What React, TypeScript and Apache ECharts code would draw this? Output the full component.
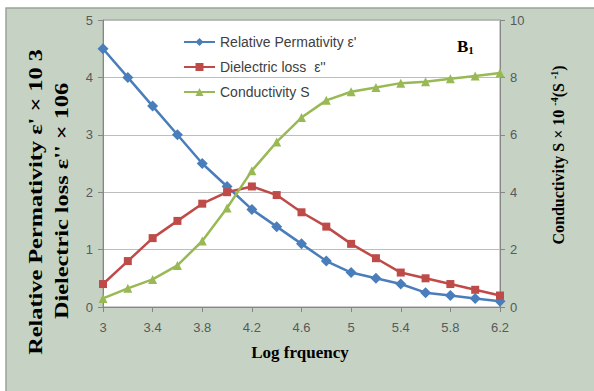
import React, { useEffect, useRef } from "react";
import * as echarts from "echarts";

const logFreq = ["3", "3.2", "3.4", "3.6", "3.8", "4", "4.2", "4.4", "4.6", "4.8", "5", "5.2", "5.4", "5.6", "5.8", "6", "6.2"];
const permittivity = [4.5, 4.0, 3.5, 3.0, 2.5, 2.1, 1.7, 1.4, 1.1, 0.8, 0.6, 0.5, 0.4, 0.25, 0.2, 0.15, 0.1];
const dielectricLoss = [0.4, 0.8, 1.2, 1.5, 1.8, 2.0, 2.1, 1.95, 1.65, 1.4, 1.1, 0.85, 0.6, 0.5, 0.4, 0.3, 0.2];
const conductivity = [0.3, 0.65, 0.96, 1.45, 2.3, 3.45, 4.75, 5.75, 6.6, 7.2, 7.5, 7.65, 7.8, 7.85, 7.95, 8.05, 8.15];
const leftTicks = [0, 1, 2, 3, 4, 5];
const rightTicks = [0, 2, 4, 6, 8, 10];

const labelFont = { fontFamily: "Liberation Sans", fontSize: 12, color: "#595959" };
const titleFont = "Liberation Serif";

export default function App() {
  const ref = useRef<HTMLDivElement>(null);
  useEffect(() => {
    if (!ref.current) return;
    const chart = echarts.init(ref.current, undefined, { renderer: "svg" });
    chart.setOption({
      animation: false,
      backgroundColor: "#ffffff",
      graphic: [
        { type: "rect", z: -10, shape: { x: 6, y: 8, width: 600, height: 400 }, style: { fill: "#c6d3c4", stroke: "#9aa39a", lineWidth: 1.5 } },
        {
          type: "text", z: 10, x: 36, y: 202, rotation: Math.PI / 2, scaleX: 1.28,
          style: { text: "Relative Permativity ε' × 10 3", font: `bold 19px ${titleFont}`, fill: "#000", align: "center", verticalAlign: "middle" },
        },
        {
          type: "text", z: 10, x: 62, y: 201, rotation: Math.PI / 2, scaleX: 1.28,
          style: { text: "Dielectric loss ε'' × 106", font: `bold 19px ${titleFont}`, fill: "#000", align: "center", verticalAlign: "middle" },
        },
        {
          type: "text", z: 10, x: 558, y: 155, rotation: Math.PI / 2,
          style: {
            text: "Conductivity S × 10 {sup|-4}(S {sup|-1})",
            font: `bold 16px ${titleFont}`, fill: "#000", align: "center", verticalAlign: "middle",
            rich: { sup: { fontFamily: titleFont, fontWeight: "bold", fontSize: 10, verticalAlign: "top", padding: [0, 0, 8, 0] } },
          },
        },
        {
          type: "text", z: 10, x: 300, y: 352,
          style: { text: "Log frquency", font: `bold 17px ${titleFont}`, fill: "#000", align: "center", verticalAlign: "middle" },
        },
        {
          type: "text", z: 10, x: 457, y: 46,
          style: {
            text: "B{sub|1}", font: `bold 17px ${titleFont}`, fill: "#000", align: "left", verticalAlign: "middle",
            rich: { sub: { fontFamily: titleFont, fontWeight: "bold", fontSize: 11, padding: [8, 0, 0, 0] } },
          },
        },
      ],
      legend: {
        orient: "vertical", left: 178, top: 30, itemWidth: 31, itemHeight: 10, itemGap: 11,
        textStyle: { fontFamily: "Liberation Sans", fontSize: 14, color: "#404040" },
        data: ["Relative Permativity ε'", "Dielectric loss  ε''", "Conductivity S"],
      },
      grid: { left: 103, right: 94, top: 20, bottom: 84, show: true, backgroundColor: "#ffffff", borderColor: "#9a9a9a", borderWidth: 1 },
      xAxis: {
        type: "category", data: logFreq, boundaryGap: false,
        axisLine: { lineStyle: { color: "#868686" } },
        axisTick: { interval: 1, length: 5, lineStyle: { color: "#868686" } },
        axisLabel: { ...labelFont, fontSize: 13, interval: 1, margin: 14 },
      },
      yAxis: [
        {
          type: "value", min: 0, max: 5, interval: 1,
          axisLine: { show: true, lineStyle: { color: "#868686" } },
          axisTick: { show: true, length: 5, lineStyle: { color: "#868686" } },
          axisLabel: { ...labelFont, fontSize: 13, margin: 10, formatter: (v: number) => (leftTicks.includes(v) ? String(v) : "") },
          splitLine: { lineStyle: { color: "#bdbdbd", width: 1 } },
        },
        {
          type: "value", min: 0, max: 10, interval: 2, position: "right",
          axisLine: { show: true, lineStyle: { color: "#868686" } },
          axisTick: { show: true, length: 5, lineStyle: { color: "#868686" } },
          axisLabel: { ...labelFont, fontSize: 13, margin: 10, formatter: (v: number) => (rightTicks.includes(v) ? String(v) : "") },
          splitLine: { show: false },
        },
      ],
      series: [
        {
          name: "Relative Permativity ε'", type: "line", yAxisIndex: 0, data: permittivity,
          symbol: "diamond", symbolSize: 11, color: "#4a7ebb", lineStyle: { width: 2.5, color: "#4a7ebb" }, itemStyle: { color: "#4a7ebb" },
        },
        {
          name: "Dielectric loss  ε''", type: "line", yAxisIndex: 0, data: dielectricLoss,
          symbol: "rect", symbolSize: 8, color: "#be4b48", lineStyle: { width: 2.5, color: "#be4b48" }, itemStyle: { color: "#be4b48" },
        },
        {
          name: "Conductivity S", type: "line", yAxisIndex: 1, data: conductivity,
          symbol: "triangle", symbolSize: 9, color: "#98b954", lineStyle: { width: 2.5, color: "#98b954" }, itemStyle: { color: "#98b954" },
        },
      ],
    });
    return () => chart.dispose();
  }, []);
  return <div ref={ref} style={{ position: "fixed", left: 0, top: 0, width: 594, height: 391 }} />;
}
